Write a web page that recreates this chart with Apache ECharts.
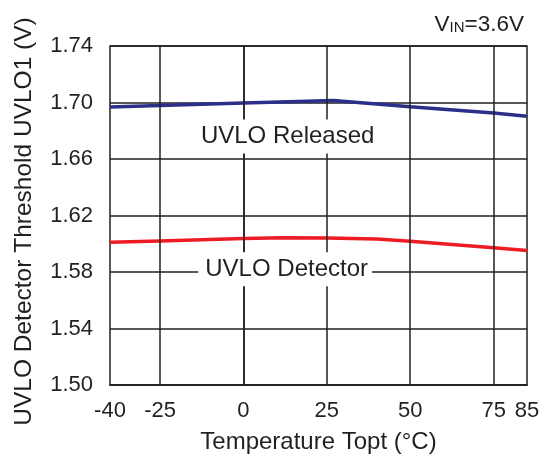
<!DOCTYPE html>
<html><head><meta charset="utf-8">
<script src="https://cdn.jsdelivr.net/npm/echarts@6/dist/echarts.min.js"></script>
<style>html,body{margin:0;padding:0;background:#fff}#c{width:548px;height:459px}</style>
</head><body><div id="c"></div>
<script>
// Data
const releasedTemp = [-40, -25, 0, 27, 50, 75, 85];
const releasedV    = [1.6968, 1.6978, 1.6997, 1.7015, 1.6970, 1.6925, 1.6903];
const detectorTemp = [-40, -25, 0, 12, 25, 40, 50, 75, 85];
const detectorV    = [1.6010, 1.6020, 1.6037, 1.6042, 1.6040, 1.6034, 1.6018, 1.5972, 1.5953];
const xTickLabels  = [-40, -25, 0, 25, 50, 75, 85];
const xGridValues  = [-25, 0, 25, 50, 75];
const annotations  = [
  { text: 'UVLO Released', t: 12.8, v: 1.6760 },
  { text: 'UVLO Detector', t: 12.5, v: 1.5820 }
];

const ink = '#231f20';
const font = 'Liberation Sans, Arial, sans-serif';
const chart = echarts.init(document.getElementById('c'));
chart.setOption({
  animation: false,
  backgroundColor: '#fff',
  textStyle: { fontFamily: font, color: ink },
  title: {
    right: 19, top: 8,
    text: '{a|V}{b|IN}{a|=3.6V}',
    textStyle: {
      fontWeight: 'normal',
      rich: {
        a: { fontSize: 22.5, fontFamily: font, color: ink, fontWeight: 'normal' },
        b: { fontSize: 15, fontFamily: font, color: ink, fontWeight: 'normal', verticalAlign: 'bottom', padding: [0,0,1,0] }
      }
    }
  },
  grid: { left: 110, right: 21, top: 46, bottom: 72, show: true, borderColor: ink, borderWidth: 1.5, backgroundColor: 'transparent' },
  xAxis: {
    type: 'value', min: -40, max: 85, interval: 5,
    name: 'Temperature Topt (°C)', nameLocation: 'middle', nameGap: 45,
    nameTextStyle: { fontSize: 24, color: ink, fontFamily: font },
    axisLine: { show: true, lineStyle: { color: ink, width: 1.5 } },
    axisTick: { show: false },
    splitLine: { show: false },
    axisLabel: {
      fontSize: 22, color: ink, margin: 15, fontFamily: font,
      formatter: v => xTickLabels.indexOf(Math.round(v)) >= 0 && Math.abs(v - Math.round(v)) < 1e-6 ? String(Math.round(v)) : ''
    }
  },
  yAxis: {
    type: 'value', min: 1.50, max: 1.74, interval: 0.04,
    name: 'UVLO Detector Threshold UVLO1 (V)', nameLocation: 'middle', nameGap: 73,
    nameTextStyle: { fontSize: 24.5, color: ink, fontFamily: font, padding: [0, 12, 0, 0] },
    axisLine: { show: true, lineStyle: { color: ink, width: 1.5 } },
    axisTick: { show: false },
    splitLine: { show: true, lineStyle: { color: ink, width: 1.5 } },
    axisLabel: { fontSize: 22, color: ink, margin: 17, fontFamily: font, formatter: v => v.toFixed(2) }
  },
  series: [
    {
      type: 'line', data: [], z: 1, silent: true,
      markLine: {
        symbol: 'none', silent: true, label: { show: false },
        lineStyle: { color: ink, width: 1.5, type: 'solid' },
        data: xGridValues.map(x => ({ xAxis: x }))
      }
    },
    {
      name: 'Released', type: 'line', z: 3, symbol: 'none',
      lineStyle: { color: '#2b2f8a', width: 3.5 },
      data: releasedTemp.map((t, i) => [t, releasedV[i]])
    },
    {
      name: 'Detector', type: 'line', z: 3, symbol: 'none',
      lineStyle: { color: '#ed1c24', width: 3.5 },
      data: detectorTemp.map((t, i) => [t, detectorV[i]])
    },
    {
      type: 'scatter', z: 5, silent: true, symbolSize: 1,
      itemStyle: { color: '#fff', opacity: 1 },
      label: {
        show: true, position: 'inside', formatter: p => p.data.name,
        fontSize: 24, color: ink, fontFamily: font,
        backgroundColor: '#fff', padding: [5, 4, 5, 7]
      },
      data: annotations.map(a => ({ name: a.text, value: [a.t, a.v] }))
    }
  ]
});
</script></body></html>
